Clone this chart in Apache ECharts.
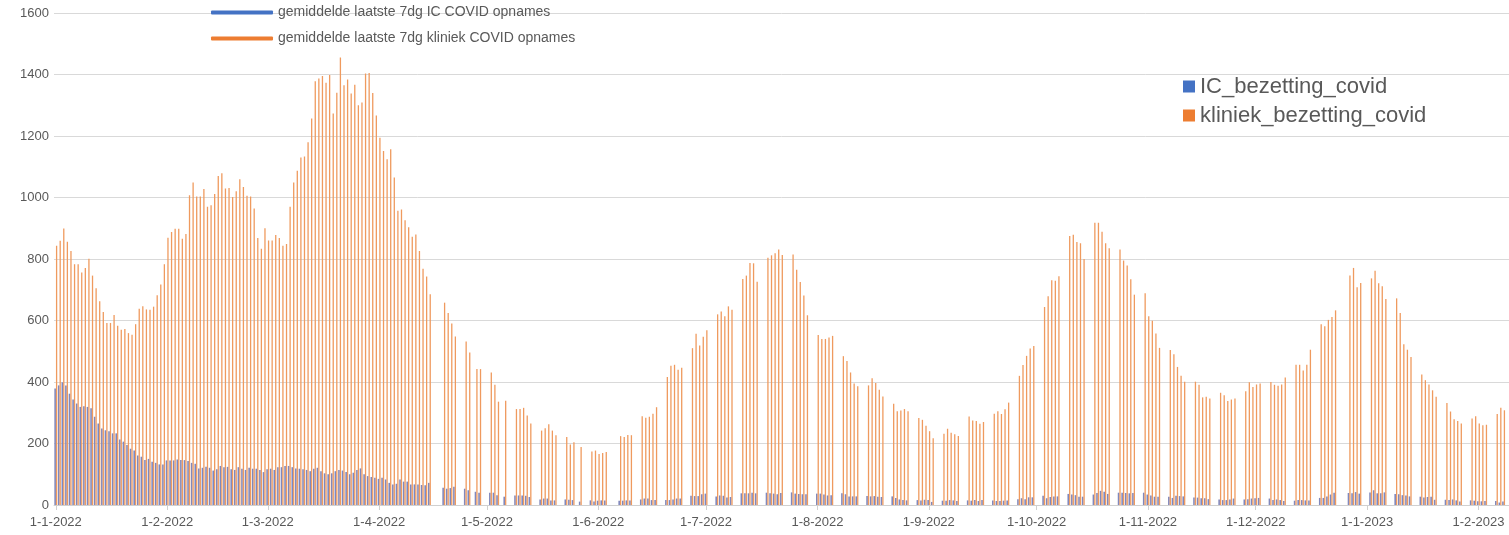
<!DOCTYPE html>
<html>
<head>
<meta charset="utf-8">
<title>COVID bezetting ziekenhuizen 2022-2023</title>
<script src="https://cdn.jsdelivr.net/npm/echarts@6/dist/echarts.min.js"></script>
<style>
  html, body { margin: 0; padding: 0; background: #ffffff; }
  #chart { width: 1509px; height: 535px; }
</style>
</head>
<body>
<div id="chart"></div>
<script>
// Daily occupancy, one array per month (null = no report that day)
const klin_2022_01 = [843, 859, 899, 856, 826, 783, 783, 756, 771, 801, 746, 705, 663, 628, 592, 592, 618, 583, 570, 572, 559, 554, 588, 638, 646, 636, 635, 645, 682, 717, 783];
const klin_2022_02 = [869, 888, 898, 898, 866, 881, 1007, 1049, 1003, 1003, 1028, 970, 975, 1011, 1070, 1079, 1029, 1031, 1002, 1020, 1059, 1034, 1006, 1003, 964, 868, 833, 900];
const klin_2022_03 = [860, 860, 878, 868, 843, 849, 970, 1049, 1087, 1130, 1133, 1180, 1257, 1378, 1387, 1395, 1373, 1398, 1273, 1341, 1455, 1365, 1384, 1338, 1367, 1300, 1309, 1403, 1405, 1340, 1267];
const klin_2022_04 = [1194, 1151, 1124, 1157, 1065, 957, 961, 926, 903, 872, 880, 826, 768, 743, 685, null, null, null, 658, 624, 590, 548, null, null, 532, 496, null, 442, 442, null];
const klin_2022_05 = [null, 431, 391, 336, null, 339, null, null, 312, 312, 316, 291, 265, null, null, 242, 250, 263, 242, 227, null, null, 221, 197, 204, null, 189, null, null, 174, 177];
const klin_2022_06 = [166, 169, 172, null, null, null, 224, 221, 228, 227, null, null, 289, 284, 287, 297, 318, null, null, 416, 453, 456, 440, 446, null, null, 510, 557, 519, 547];
const klin_2022_07 = [568, null, null, 620, 629, 614, 646, 635, null, null, 735, 746, 787, 786, 726, null, null, 804, 812, 819, 831, 813, null, null, 815, 765, 725, 681, 617, null, null];
const klin_2022_08 = [553, 540, 540, 545, 550, null, null, 484, 468, 431, 395, 386, null, null, 389, 412, 397, 375, 353, null, null, 329, 305, 307, 312, 305, null, null, 283, 277, 258];
const klin_2022_09 = [240, 217, null, null, 232, 248, 235, 230, 224, null, null, 288, 275, 273, 264, 270, null, null, 297, 305, 296, 311, 333, null, null, 420, 455, 485, 509, 517];
const klin_2022_10 = [null, null, 644, 679, 731, 729, 744, null, null, 875, 879, 855, 851, 800, null, null, 918, 918, 889, 851, 835, null, null, 831, 795, 779, 734, 684, null, null, 689];
const klin_2022_11 = [614, 599, 558, 511, null, null, 504, 490, 449, 420, 401, null, null, 401, 391, 350, 352, 346, null, null, 365, 357, 338, 343, 346, null, null, 370, 399, 384];
const klin_2022_12 = [392, 395, null, null, 400, 391, 388, 392, 415, null, null, 456, 456, 437, 456, 505, null, null, 588, 581, 602, 611, 633, null, null, null, 746, 771, 708, 722, null];
const klin_2023_01 = [null, 737, 762, 721, 711, 670, null, null, 672, 624, 523, 505, 481, null, null, 424, 406, 392, 373, 352, null, null, 332, 304, 279, 273, 265, null, null, 281, 289];
const klin_2023_02 = [265, 259, 261, null, null, 296, 316, 308, null];

const ic_2022_01 = [379, 389, 399, 389, 362, 343, 330, 319, 321, 319, 315, 287, 265, 249, 243, 240, 233, 233, 213, 206, 195, 183, 177, 161, 157, 146, 150, 141, 137, 132, 132];
const ic_2022_02 = [145, 145, 145, 148, 146, 146, 143, 137, 134, 119, 121, 124, 121, 112, 116, 127, 123, 124, 116, 114, 123, 118, 114, 121, 118, 118, 114, 107];
const ic_2022_03 = [116, 118, 114, 123, 123, 127, 127, 123, 119, 118, 116, 114, 110, 118, 121, 110, 103, 100, 103, 110, 114, 112, 107, 100, 105, 114, 119, 100, 94, 91, 89];
const ic_2022_04 = [85, 89, 83, 72, 67, 69, 83, 76, 76, 67, 67, 67, 65, 64, 72, null, null, null, 56, 53, 55, 59, null, null, 53, 48, null, 43, 40, null];
const ic_2022_05 = [null, 40, 40, 32, null, 27, null, null, 31, 31, 31, 30, 26, null, null, 18, 21, 21, 15, 15, null, null, 18, 17, 16, null, 11, null, null, 15, 11];
const ic_2022_06 = [14, 15, 15, null, null, null, 14, 14, 15, 15, null, null, 18, 21, 21, 16, 16, null, null, 16, 16, 18, 21, 21, null, null, 30, 29, 29, 35];
const ic_2022_07 = [37, null, null, 28, 31, 30, 24, 26, null, null, 38, 38, 38, 40, 38, null, null, 40, 38, 37, 35, 39, null, null, 41, 37, 36, 35, 35, null, null];
const ic_2022_08 = [37, 37, 34, 31, 32, null, null, 38, 35, 28, 28, 28, null, null, 29, 28, 29, 27, 26, null, null, 28, 23, 18, 16, 15, null, null, 16, 15, 17];
const ic_2022_09 = [16, 10, null, null, 14, 14, 16, 15, 13, null, null, 15, 14, 16, 13, 16, null, null, 15, 13, 13, 14, 15, null, null, 19, 22, 19, 25, 25];
const ic_2022_10 = [null, null, 30, 22, 26, 28, 28, null, null, 36, 34, 32, 27, 27, null, null, 34, 39, 46, 43, 36, null, null, 40, 40, 39, 38, 39, null, null, 40];
const ic_2022_11 = [34, 31, 27, 27, null, null, 27, 23, 30, 29, 28, null, null, 24, 24, 22, 22, 19, null, null, 18, 16, 16, 18, 21, null, null, 18, 19, 21];
const ic_2022_12 = [22, 23, null, null, 21, 16, 18, 16, 13, null, null, 14, 16, 16, 15, 15, null, null, 23, 23, 28, 34, 40, null, null, null, 39, 38, 42, 37, null];
const ic_2023_01 = [null, 41, 48, 38, 38, 41, null, null, 36, 35, 32, 31, 28, null, null, 27, 24, 26, 27, 17, null, null, 17, 16, 18, 15, 11, null, null, 15, 14];
const ic_2023_02 = [12, 12, 13, null, null, 13, 8, 11, null];

const kliniek = [].concat(klin_2022_01, klin_2022_02, klin_2022_03, klin_2022_04, klin_2022_05,
  klin_2022_06, klin_2022_07, klin_2022_08, klin_2022_09, klin_2022_10, klin_2022_11,
  klin_2022_12, klin_2023_01, klin_2023_02);
const ic = [].concat(ic_2022_01, ic_2022_02, ic_2022_03, ic_2022_04, ic_2022_05,
  ic_2022_06, ic_2022_07, ic_2022_08, ic_2022_09, ic_2022_10, ic_2022_11,
  ic_2022_12, ic_2023_01, ic_2023_02);

// One category per calendar day, labelled d-m-yyyy
const startDate = new Date(Date.UTC(2022, 0, 1));
const days = [];
for (let i = 0; i < kliniek.length; i++) {
  const d = new Date(startDate.getTime() + i * 86400000);
  days.push(d.getUTCDate() + '-' + (d.getUTCMonth() + 1) + '-' + d.getUTCFullYear());
}
const isMonthStart = (idx, val) => val.startsWith('1-');

const seriesNames = {
  icBar: 'IC_bezetting_covid',
  klinBar: 'kliniek_bezetting_covid',
  icAvg: 'gemiddelde laatste 7dg IC COVID opnames',
  klinAvg: 'gemiddelde laatste 7dg kliniek COVID opnames'
};
const BLUE = '#4472C4';
const ORANGE = '#ED7D31';
// thin daily bars are drawn in softer tints of the legend colours
const BLUE_BAR = '#8088BC';
const ORANGE_BAR = '#EF9A5E';
const TEXT = '#595959';
const FONT = '"Liberation Sans", Arial, sans-serif';

const chart = echarts.init(document.getElementById('chart'), null, { renderer: 'canvas' });
chart.setOption({
  animation: false,
  backgroundColor: '#ffffff',
  textStyle: { fontFamily: FONT },
  grid: { left: 54, right: 0, top: 13, bottom: 30, containLabel: false },
  legend: [
    {
      data: [
        { name: seriesNames.icAvg, itemStyle: { color: BLUE } },
        { name: seriesNames.klinAvg, itemStyle: { color: ORANGE } }
      ],
      orient: 'vertical',
      left: 211,
      top: 4,
      padding: 0,
      icon: 'roundRect',
      itemWidth: 62,
      itemHeight: 4,
      itemGap: 9,
      textStyle: { color: TEXT, fontSize: 14, fontFamily: FONT, lineHeight: 17 }
    },
    {
      data: [
        { name: seriesNames.icBar, itemStyle: { color: BLUE } },
        { name: seriesNames.klinBar, itemStyle: { color: ORANGE } }
      ],
      orient: 'vertical',
      left: 1183,
      top: 74,
      padding: 0,
      icon: 'rect',
      itemWidth: 12,
      itemHeight: 12,
      itemGap: 4,
      textStyle: { color: TEXT, fontSize: 22, fontFamily: FONT, lineHeight: 25 }
    }
  ],
  xAxis: {
    type: 'category',
    data: days,
    boundaryGap: true,
    axisLine: { show: true, lineStyle: { color: '#d0d0d0', width: 1 } },
    axisTick: { show: true, alignWithLabel: true, interval: isMonthStart, length: 5, lineStyle: { color: '#d0d0d0' } },
    axisLabel: { interval: isMonthStart, color: TEXT, fontSize: 13, margin: 11, fontFamily: FONT },
    splitLine: { show: false }
  },
  yAxis: {
    type: 'value',
    min: 0,
    max: 1600,
    interval: 200,
    axisLine: { show: false },
    axisTick: { show: false },
    axisLabel: { color: TEXT, fontSize: 13, margin: 5, fontFamily: FONT, formatter: (v) => String(v) },
    splitLine: { lineStyle: { color: '#d9d9d9', width: 1 } }
  },
  series: [
    {
      name: seriesNames.icBar,
      type: 'bar',
      data: ic,
      barWidth: 1.6,
      barGap: '0%',
      itemStyle: { color: BLUE_BAR },
      emphasis: { disabled: true }
    },
    {
      name: seriesNames.klinBar,
      type: 'bar',
      data: kliniek,
      barWidth: 1.3,
      itemStyle: { color: ORANGE_BAR },
      emphasis: { disabled: true }
    },
    {
      name: seriesNames.icAvg,
      type: 'line',
      data: [],
      showSymbol: false,
      itemStyle: { color: BLUE },
      lineStyle: { color: BLUE, width: 3 }
    },
    {
      name: seriesNames.klinAvg,
      type: 'line',
      data: [],
      showSymbol: false,
      itemStyle: { color: ORANGE },
      lineStyle: { color: ORANGE, width: 3 }
    }
  ]
});
</script>
</body>
</html>
